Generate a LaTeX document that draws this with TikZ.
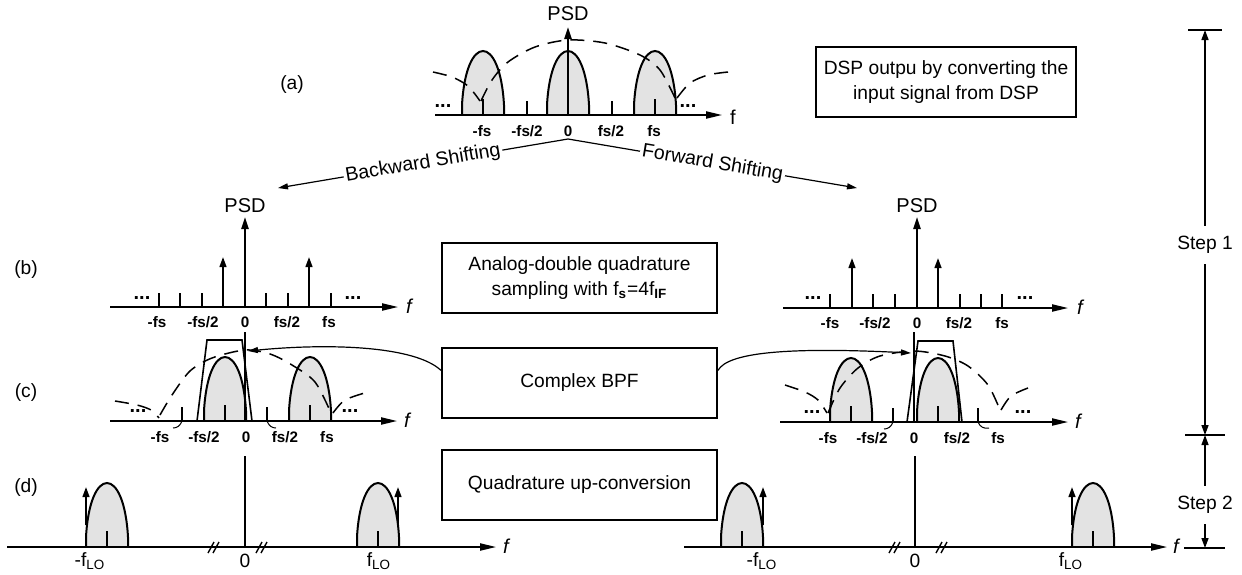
\documentclass[tikz,border=0pt]{standalone}
\usepackage{fontspec}
\setmainfont{Liberation Sans}
\usetikzlibrary{arrows.meta}

\newcommand{\boxfont}{\fontsize{9.6}{12.5}\selectfont}
\newcommand{\tickfont}{\fontsize{7.6}{9}\selectfont\bfseries}

\tikzset{
  axis/.style={line width=0.75pt, -{Triangle[length=8pt,width=3.6pt]}},
  psd/.style={line width=0.9pt, -{Triangle[length=6pt,width=3.6pt]}},
  impulse/.style={line width=0.9pt, -{Triangle[length=5pt,width=3.4pt]}},
  tick/.style={line width=0.9pt},
  curl/.style={line width=0.5pt},
  brk/.style={line width=0.7pt},
  filt/.style={line width=0.8pt},
  sinc/.style={line width=0.75pt, dash pattern=on 7pt off 4.5pt},
  band/.style={draw, line width=1pt, fill=gray!22},
  lab/.style={font=\tickfont, inner sep=1pt},
  fax/.style={font=\fontsize{10}{12}\selectfont\itshape, inner sep=1pt},
  dots/.style={font=\fontsize{10}{11}\selectfont\bfseries, inner sep=0pt},
  psdlbl/.style={font=\fontsize{10}{12}\selectfont, inner sep=1pt},
  blockbox/.style={draw, line width=1pt, font=\boxfont, align=center,
                   minimum width=137.5pt, minimum height=35pt},
  shiftarrow/.style={line width=0.6pt, -{Triangle[length=5pt,width=3pt]}},
  shiftlabel/.style={sloped, fill=white, inner sep=1pt, font=\fontsize{9.8}{12}\selectfont},
  dim/.style={line width=0.7pt, -{Triangle[length=5pt,width=3.5pt]}},
  lobe/.pic={
    \path[band] (-21,0) -- (-21,-10) .. controls (-17,-82) and (17,-82) .. (21,-10) -- (21,0);
    \draw[tick] (0,0) -- (0,-16);
  }
}

\begin{document}
\begin{tikzpicture}[x=0.5pt, y=-0.5pt, font=\boxfont]
\useasboundingbox (0,0) rectangle (1242,574);

% (a) spectrum of the DSP output
\node (lbla) at (292,85) {(a)};
\pic at (483,115) {lobe};
\pic at (568,115) {lobe};
\pic at (655,115) {lobe};
\draw[sinc] plot[smooth] coordinates {(481,101) (492,80) (508,62) (535,47) (568,40) (605,43) (640,55) (660,70) (675,98)};
\draw[sinc] plot[smooth] coordinates {(433,72) (452,77) (468,86) (480,101)};
\draw[sinc] plot[smooth] coordinates {(677,98) (690,83) (708,75) (728,72)};
\draw[axis] (435,115) -- (722,115);
\foreach \x in {527,612} \draw[tick] (\x,115) -- (\x,101);
\draw[psd] (568,115) -- (568,27);
\node[psdlbl] (psda) at (568,14) {PSD};
\node[inner sep=1pt, font=\fontsize{10}{12}\selectfont] (fa) at (733,117) {f};
\node[dots] (dotsa1) at (443,106) {...};
\node[dots] (dotsa2) at (688,106) {...};
\foreach \x/\t in {482/-fs, 527/{-fs/2}, 568/0, 611/{fs/2}, 654/fs}
  \node[lab] (la\x) at (\x,131) {\t};

\node[blockbox, minimum width=130pt] (dsp) at (946,82) {DSP outpu by converting the\\input signal from DSP};

% shifting
\coordinate (apex) at (568,139);
\coordinate (bwd) at (278,188);
\coordinate (fwd) at (857,188);
\draw[shiftarrow] (apex) -- node[shiftlabel] (bwdlbl) {Backward Shifting} (bwd);
\draw[shiftarrow] (apex) -- node[shiftlabel] (fwdlbl) {Forward Shifting} (fwd);

% (b) left
\node (lblb) at (26,270) {(b)};
\draw[axis] (110,307) -- (398,307);
\foreach \x in {159,180,202,266,288,331} \draw[tick] (\x,307) -- (\x,293);
\foreach \x in {223,309} \draw[impulse] (\x,307) -- (\x,257);
\draw[psd] (245,307) -- (245,217);
\node[psdlbl] (psdbl) at (245,206) {PSD};
\node[fax] (fbl) at (409,306) {f};
\node[dots] (dotsbl1) at (142,298) {...};
\node[dots] (dotsbl2) at (353,298) {...};
\foreach \x/\t in {157/-fs, 203/{-fs/2}, 245/0, 287/{fs/2}, 329/fs}
  \node[lab] (lbl\x) at (\x,322) {\t};

% (b) right
\draw[axis] (783,308) -- (1068,308);
\foreach \x in {830,873,895,960,981,1002} \draw[tick] (\x,308) -- (\x,294);
\foreach \x in {852,938} \draw[impulse] (\x,308) -- (\x,258);
\draw[psd] (917,308) -- (917,217);
\node[psdlbl] (psdbr) at (917,206) {PSD};
\node[fax] (fbr) at (1080,307) {f};
\node[dots] (dotsbr1) at (813,298) {...};
\node[dots] (dotsbr2) at (1025,298) {...};
\foreach \x/\t in {830/-fs, 875/{-fs/2}, 917/0, 959/{fs/2}, 1002/fs}
  \node[lab] (lbr\x) at (\x,323) {\t};

\node[blockbox] (adc) at (579.5,278) {Analog-double quadrature\\sampling with f\textsubscript{\textbf{s}}=4f\textsubscript{\textbf{IF}}};

% (c) left
\node (lblc) at (26,393) {(c)};
\pic at (225,421) {lobe};
\pic at (310,421) {lobe};
\draw[sinc] plot[smooth] coordinates {(160,415) (172,395) (190,371) (212,358) (245,350) (270,354) (292,365) (315,382) (331,413)};
\draw[sinc] plot[smooth] coordinates {(115,401) (137,405) (151,410) (159,418)};
\draw[sinc] plot[smooth] coordinates {(333,413) (345,400) (368,392)};
\draw[filt] (197,421) -- (207,340) -- (242,340) -- (252,421);
\foreach \x in {182,267} \draw[tick] (\x,421) -- (\x,407);
\draw[curl] (182,421) .. controls (180,426) and (177,428) .. (173,428);
\draw[curl] (267,421) .. controls (269,426) and (272,428) .. (276,428);
\draw[tick] (245,332) -- (245,421);
\draw[axis] (110,421) -- (397,421);
\node[fax] (fcl) at (407,420) {f};
\node[dots] (dotscl1) at (138,411) {...};
\node[dots] (dotscl2) at (350,411) {...};
\foreach \x/\t in {160/-fs, 204/{-fs/2}, 246/0, 285/{fs/2}, 327/fs}
  \node[lab] (lcl\x) at (\x,437) {\t};

% (c) right
\pic at (851,422) {lobe};
\pic at (938,422) {lobe};
\draw[sinc] plot[smooth] coordinates {(828,413) (840,388) (858,368) (880,356) (914,351) (945,356) (968,366) (988,385) (1000,410)};
\draw[sinc] plot[smooth] coordinates {(785,385) (805,392) (818,400) (827,413)};
\draw[sinc] plot[smooth] coordinates {(1001,410) (1011,396) (1028,388)};
\draw[filt] (907,422) -- (918,341) -- (953,341) -- (962,422);
\foreach \x in {893,978} \draw[tick] (\x,422) -- (\x,408);
\draw[curl] (893,422) .. controls (891,427) and (888,429) .. (884,429);
\draw[curl] (978,422) .. controls (980,427) and (984,429) .. (989,428);
\draw[tick] (914,332) -- (914,422);
\draw[axis] (780,422) -- (1068,422);
\node[fax] (fcr) at (1078,421) {f};
\node[dots] (dotscr1) at (812,412) {...};
\node[dots] (dotscr2) at (1023,412) {...};
\foreach \x/\t in {828/-fs, 872/{-fs/2}, 914/0, 957/{fs/2}, 998/fs}
  \node[lab] (lcr\x) at (\x,438) {\t};

\node[blockbox] (bpf) at (579.5,382.5) {Complex BPF};
\coordinate (c0l) at (248,351);
\coordinate (c0r) at (911,353);
\draw[shiftarrow] (bpf.175) .. controls (415,346) and (330,343) .. (c0l);
\draw[shiftarrow] (bpf.5) .. controls (728,352) and (790,347) .. (c0r);

% (d) left
\node (lbld) at (26,488) {(d)};
\pic at (107,547) {lobe};
\pic at (378,547) {lobe};
\draw[impulse] (86,525) -- (86,487);
\draw[impulse] (398,525) -- (398,487);
\draw[tick] (245,456) -- (245,547);
\draw[axis] (7,547) -- (496,547);
\foreach \x in {214,262} {
  \draw[brk] (\x-6,553) -- (\x,542);
  \draw[brk] (\x-1,553) -- (\x+5,542);
}
\node[fax] (fdl) at (506,546) {f};
\node (ldl1) at (90,561) {-f\textsubscript{LO}};
\node (ldl2) at (245,561) {0};
\node (ldl3) at (379,561) {f\textsubscript{LO}};

% (d) right
\pic at (742,547) {lobe};
\pic at (1093,547) {lobe};
\draw[impulse] (763,525) -- (763,487);
\draw[impulse] (1072,525) -- (1072,487);
\draw[tick] (915,456) -- (915,547);
\draw[axis] (684,547) -- (1167,547);
\foreach \x in {895,942} {
  \draw[brk] (\x-6,553) -- (\x,542);
  \draw[brk] (\x-1,553) -- (\x+5,542);
}
\node[fax] (fdr) at (1176,546) {f};
\node (ldr1) at (762,561) {-f\textsubscript{LO}};
\node (ldr2) at (915,561) {0};
\node (ldr3) at (1071,561) {f\textsubscript{LO}};

\node[blockbox] (upconv) at (579.5,484.5) {Quadrature up-conversion};

% steps
\coordinate (s1top) at (1205,30);
\coordinate (s1end) at (1205,435);
\coordinate (s2end) at (1205,548);
\node[inner sep=5pt] (step1) at (1205,245) {Step 1};
\node[inner sep=5pt] (step2) at (1205,505) {Step 2};
\draw[dim] (step1) -- (s1top);
\draw[dim] (step1) -- (s1end);
\draw[dim] (step2) -- (s1end);
\draw[dim] (step2) -- (s2end);
\draw[tick] (1188,30) -- (1222,30);
\draw[tick] (1185,435) -- (1225,435);
\draw[tick] (1184,548) -- (1225,548);

\end{tikzpicture}
\end{document}
